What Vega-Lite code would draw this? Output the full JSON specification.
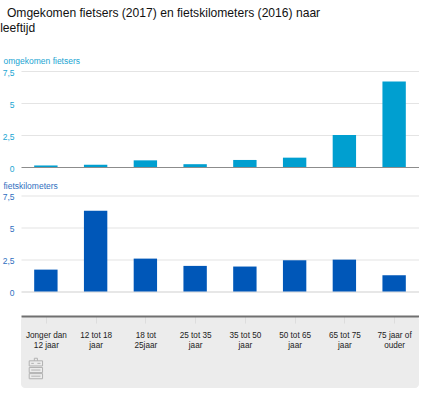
{
  "$schema": "https://vega.github.io/schema/vega-lite/v6.json",
  "description": "Omgekomen fietsers en fietskilometers naar leeftijd.",
  "background": "white",
  "padding": {"left": 0, "top": 7, "right": 0, "bottom": 0},
  "bounds": "flush",
  "spacing": 24.5,
  "title": {
    "text": ["\u200b\u00a0\u00a0Omgekomen fietsers (2017) en fietskilometers (2016) naar", "leeftijd"],
    "anchor": "start",
    "frame": "bounds",
    "dx": -2,
    "font": "Liberation Sans",
    "fontSize": 12.1,
    "fontWeight": "normal",
    "color": "#111111",
    "lineHeight": 15,
    "offset": 22
  },
  "config": {
    "font": "Liberation Sans",
    "view": {"stroke": null},
    "axisX": {"title": null}
  },
  "datasets": {
    "cijfers": [
      {"leeftijd": "Jonger dan\n12 jaar", "omgekomen": 0.12, "kilometers": 1.71},
      {"leeftijd": "12 tot 18\njaar", "omgekomen": 0.17, "kilometers": 6.31},
      {"leeftijd": "18 tot\n25jaar", "omgekomen": 0.52, "kilometers": 2.57},
      {"leeftijd": "25 tot 35\njaar", "omgekomen": 0.22, "kilometers": 2.0},
      {"leeftijd": "35 tot 50\njaar", "omgekomen": 0.55, "kilometers": 1.95},
      {"leeftijd": "50 tot 65\njaar", "omgekomen": 0.73, "kilometers": 2.44},
      {"leeftijd": "65 tot 75\njaar", "omgekomen": 2.5, "kilometers": 2.49},
      {"leeftijd": "75 jaar of\nouder", "omgekomen": 6.68, "kilometers": 1.27}
    ]
  },
  "vconcat": [
    {
      "width": 398,
      "height": 99.5,
      "data": {"name": "cijfers"},
      "mark": {"type": "bar", "color": "#009fd0"},
      "encoding": {
        "x": {"field": "leeftijd", "type": "nominal", "sort": null, "axis": null,
          "scale": {"paddingInner": 0.53, "paddingOuter": 0.265}},
        "y": {"field": "omgekomen", "type": "quantitative",
          "scale": {"domain": [-0.2734, 7.5], "nice": false, "zero": false},
          "axis": {
            "values": [0, 2.5, 5, 7.5],
            "labelExpr": "replace(toString(datum.value), '.', ',')",
            "title": "omgekomen fietsers",
            "titleAngle": 0, "titleAlign": "left", "titleBaseline": "middle",
            "titleX": -18, "titleY": -10.5,
            "titleFontSize": 8.5, "titleFontWeight": "normal", "titleColor": "#1aa5d2",
            "labelFontSize": 8.5, "labelColor": "#1aa5d2", "labelPadding": 7,
            "labelOffset": 1,
            "domain": false, "ticks": false,
            "grid": true, "gridWidth": 1.2,
            "gridColor": {"condition": {"test": "datum.value === 0", "value": "#8c8c8c"}, "value": "#e4e4e4"}
          }}
      }
    },
    {
      "width": 398,
      "height": 96,
      "data": {"name": "cijfers"},
      "mark": {"type": "bar", "color": "#0057b8"},
      "encoding": {
        "x": {"field": "leeftijd", "type": "nominal", "sort": null, "axis": null,
          "scale": {"paddingInner": 0.53, "paddingOuter": 0.265}},
        "y": {"field": "kilometers", "type": "quantitative",
          "scale": {"domain": [0, 7.5], "nice": false},
          "axis": {
            "values": [0, 2.5, 5, 7.5],
            "labelExpr": "replace(toString(datum.value), '.', ',')",
            "title": "fietskilometers",
            "titleAngle": 0, "titleAlign": "left", "titleBaseline": "middle",
            "titleX": -18, "titleY": -10.5,
            "titleFontSize": 8.5, "titleFontWeight": "normal", "titleColor": "#2f6fc0",
            "labelFontSize": 8.5, "labelColor": "#2f6fc0", "labelPadding": 7,
            "labelOffset": 1,
            "domain": false, "ticks": false,
            "grid": true, "gridWidth": 1.2,
            "gridColor": {"condition": {"test": "datum.value === 0", "value": "#cfcfcf"}, "value": "#e4e4e4"}
          }}
      }
    },
    {
      "width": 398,
      "height": 72,
      "view": {"fill": "#ececec", "cornerRadius": 4, "stroke": null},
      "data": {"values": [{"leeftijd": "Jonger dan\n12 jaar", "bron": "databron"}]},
      "mark": {
        "type": "point",
        "filled": false,
        "stroke": "#9a9a9a",
        "strokeWidth": 1,
        "size": 420,
        "xOffset": -10,
        "yOffset": 16.5,
        "shape": "M-0.15 -0.75 L-0.15 -1 L0.15 -1 L0.15 -0.75 M-0.65 -0.75 L0.65 -0.75 L0.65 -0.25 L-0.65 -0.25 Z M-0.45 -0.5 L-0.2 -0.5 M0.15 -0.5 L0.45 -0.5 M-0.65 -0.1 L0.65 -0.1 L0.65 0.4 L-0.65 0.4 Z M-0.45 0.15 L0.45 0.15 M-0.65 0.5 L0.65 0.5 L0.65 1 L-0.65 1 Z M-0.45 0.75 L0.45 0.75"
      },
      "encoding": {
        "x": {"field": "leeftijd", "type": "nominal",
          "scale": {
            "domain": ["Jonger dan\n12 jaar", "12 tot 18\njaar", "18 tot\n25jaar", "25 tot 35\njaar", "35 tot 50\njaar", "50 tot 65\njaar", "65 tot 75\njaar", "75 jaar of\nouder"],
            "paddingInner": 0.53, "paddingOuter": 0.265
          },
          "axis": {
            "orient": "bottom",
            "offset": -72,
            "labelExpr": "split(datum.value, '\\n')",
            "labelAngle": 0,
            "labelAlign": "center",
            "labelFontSize": 8.2,
            "labelColor": "#222222",
            "labelLineHeight": 10,
            "labelPadding": 8,
            "labelLimit": 0,
            "domainColor": "#707070",
            "domainWidth": 2,
            "tickColor": "#dddddd",
            "tickSize": 7,
            "tickWidth": 1
          }}
      }
    }
  ]
}
